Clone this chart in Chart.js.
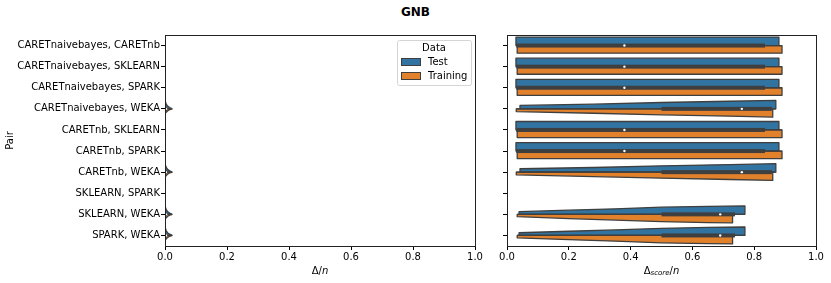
<!DOCTYPE html>
<html>
<head>
<meta charset="utf-8">
<script src="https://cdn.jsdelivr.net/npm/chart.js@4/dist/chart.umd.min.js"></script>
<style>
body { margin:0; background:#fff; width:831px; height:283px; position:relative; overflow:hidden; font-family:"DejaVu Sans", sans-serif; }
#title { position:absolute; top:5px; left:0; width:831px; text-align:center; font-weight:bold; font-size:12px; color:#000; }
canvas { position:absolute; top:0; }
</style>
</head>
<body>
<div id="title">GNB</div>
<canvas id="left" width="490" height="283" style="left:0"></canvas>
<canvas id="right" width="341" height="283" style="left:490px"></canvas>
<script>
const pairs = ['CARETnaivebayes, CARETnb', 'CARETnaivebayes, SKLEARN', 'CARETnaivebayes, SPARK',
  'CARETnaivebayes, WEKA', 'CARETnb, SKLEARN', 'CARETnb, SPARK', 'CARETnb, WEKA',
  'SKLEARN, SPARK', 'SKLEARN, WEKA', 'SPARK, WEKA'];
const xTicks = [0, 0.2, 0.4, 0.6, 0.8, 1.0];

// left panel: Δ/n  (x positions along the violin, and relative half widths)
const diffTestX = [null, null, null, [0, 0.004, 0.009, 0.015, 0.022], null, null,
  [0, 0.004, 0.009, 0.015, 0.022], null, [0, 0.004, 0.009, 0.015, 0.022], [0, 0.004, 0.009, 0.015, 0.022]];
const diffTestW = [null, null, null, [1.0, 0.55, 0.3, 0.15, 0.04], null, null,
  [1.0, 0.55, 0.3, 0.15, 0.04], null, [1.0, 0.55, 0.3, 0.15, 0.04], [1.0, 0.55, 0.3, 0.15, 0.04]];
const diffTrainX = diffTestX;
const diffTrainW = [null, null, null, [0.6, 0.4, 0.22, 0.1, 0.03], null, null,
  [0.6, 0.4, 0.22, 0.1, 0.03], null, [0.6, 0.4, 0.22, 0.1, 0.03], [0.6, 0.4, 0.22, 0.1, 0.03]];
const diffQ1 = [null, null, null, 0, null, null, 0, null, 0, 0];
const diffQ3 = [null, null, null, 0.006, null, null, 0.006, null, 0.006, 0.006];
const diffMedian = [null, null, null, 0.003, null, null, 0.003, null, 0.003, 0.003];

// right panel: Δscore/n
const flatTX = [0.029, 0.3, 0.6, 0.88], flatTW = [1.0, 1.0, 1.0, 1.0];
const flatRX = [0.033, 0.3, 0.6, 0.89], flatRW = [0.9, 0.9, 0.9, 0.9];
const wekaTX = [0.042, 0.28, 0.5, 0.72, 0.87], wekaTW = [0.4, 0.55, 0.75, 0.9, 1.0];
const wekaRX = [0.03, 0.28, 0.5, 0.72, 0.86], wekaRW = [0.32, 0.52, 0.71, 0.87, 0.98];
const skTX = [0.039, 0.2, 0.35, 0.5, 0.65, 0.77], skTW = [0.32, 0.5, 0.65, 0.85, 0.95, 1.0];
const skRX = [0.033, 0.2, 0.35, 0.5, 0.65, 0.73], skRW = [0.28, 0.5, 0.68, 0.87, 0.97, 1.0];
const scoreTestX = [flatTX, flatTX, flatTX, wekaTX, flatTX, flatTX, wekaTX, [0, 0], skTX, skTX];
const scoreTestW = [flatTW, flatTW, flatTW, wekaTW, flatTW, flatTW, wekaTW, [0.85, 0.85], skTW, skTW];
const scoreTrainX = [flatRX, flatRX, flatRX, wekaRX, flatRX, flatRX, wekaRX, [0, 0], skRX, skRX];
const scoreTrainW = [flatRW, flatRW, flatRW, wekaRW, flatRW, flatRW, wekaRW, [0.85, 0.85], skRW, skRW];
const scoreWhiskLo = [0.03, 0.03, 0.03, 0.03, 0.03, 0.03, 0.03, null, 0.033, 0.033];
const scoreWhiskHi = [0.89, 0.89, 0.89, 0.87, 0.89, 0.89, 0.87, null, 0.77, 0.77];
const scoreQ1 = [0.03, 0.03, 0.03, 0.5, 0.03, 0.03, 0.5, null, 0.5, 0.5];
const scoreQ3 = [0.835, 0.835, 0.835, 0.857, 0.835, 0.835, 0.857, null, 0.738, 0.738];
const scoreMedian = [0.38, 0.38, 0.38, 0.76, 0.38, 0.38, 0.76, null, 0.69, 0.69];

const blue = '#3274a1', orange = '#e1812c', edge = '#3f3f3f';
Chart.defaults.font.family = 'DejaVu Sans';
Chart.defaults.font.size = 10;
Chart.defaults.color = '#000';

function mathTitle(ctx, parts, cx, cy) {
  let w = 0;
  parts.forEach(p => { ctx.font = p.f; w += ctx.measureText(p.t).width; });
  let x = cx - w / 2;
  ctx.textBaseline = 'middle'; ctx.textAlign = 'left'; ctx.fillStyle = '#000';
  parts.forEach(p => { ctx.font = p.f; ctx.fillText(p.t, x, cy + (p.dy || 0)); x += ctx.measureText(p.t).width; });
}

function violins(halves, box, titleParts, withLegend) {
  return {
    id: 'violins',
    afterDatasetsDraw(chart) {
      const {ctx, chartArea: a, scales: {x, y}} = chart;
      const hw = (y.getPixelForValue(1) - y.getPixelForValue(0)) * 0.4;
      ctx.save();
      ctx.beginPath(); ctx.rect(a.left, a.top - 5, a.width, a.height + 10); ctx.clip();
      ctx.lineJoin = 'round';
      halves.forEach(h => {
        h.xs.forEach((xs, i) => {
          if (!xs) return;
          const yc = y.getPixelForValue(i), ws = h.ws[i];
          ctx.beginPath();
          ctx.moveTo(x.getPixelForValue(xs[0]), yc);
          xs.forEach((v, k) => ctx.lineTo(x.getPixelForValue(v), yc + h.dir * ws[k] * hw));
          ctx.lineTo(x.getPixelForValue(xs[xs.length - 1]), yc);
          ctx.closePath();
          ctx.fillStyle = h.color; ctx.fill();
          ctx.strokeStyle = edge; ctx.lineWidth = 1.3; ctx.stroke();
        });
      });
      box.med.forEach((m, i) => {
        if (m === null) return;
        const yc = y.getPixelForValue(i);
        if (box.lo) {
          ctx.strokeStyle = edge; ctx.lineWidth = 1.3;
          ctx.beginPath(); ctx.moveTo(x.getPixelForValue(box.lo[i]), yc); ctx.lineTo(x.getPixelForValue(box.hi[i]), yc); ctx.stroke();
        }
        const x1 = x.getPixelForValue(box.q1[i]), x2 = x.getPixelForValue(box.q3[i]);
        ctx.fillStyle = edge; ctx.fillRect(x1, yc - 2, x2 - x1, 4);
        ctx.fillStyle = '#fff'; ctx.beginPath(); ctx.arc(x.getPixelForValue(m), yc, 1.2, 0, Math.PI * 2); ctx.fill();
      });
      ctx.restore();
    },
    afterDraw(chart) {
      const {ctx, chartArea: a} = chart;
      ctx.save();
      ctx.strokeStyle = '#222'; ctx.lineWidth = 1;
      ctx.strokeRect(Math.round(a.left) + 0.5, Math.round(a.top) + 0.5, Math.round(a.width), Math.round(a.height));
      mathTitle(ctx, titleParts, (a.left + a.right) / 2, 271);
      if (withLegend) {
        const bx = a.right - 78, by = a.top + 5;
        ctx.fillStyle = 'rgba(255,255,255,0.8)'; ctx.strokeStyle = '#d5d5d5'; ctx.lineWidth = 1;
        ctx.beginPath(); ctx.roundRect(bx + 0.5, by + 0.5, 74, 45, 2); ctx.fill(); ctx.stroke();
        ctx.fillStyle = '#000'; ctx.font = '10px DejaVu Sans'; ctx.textBaseline = 'middle';
        ctx.textAlign = 'center'; ctx.fillText('Data', bx + 37, by + 8);
        ctx.textAlign = 'left';
        [['Test', blue], ['Training', orange]].forEach(([t, c], k) => {
          const yy = by + 22 + k * 14;
          ctx.fillStyle = c; ctx.fillRect(bx + 4.5, yy - 3.5, 19, 7);
          ctx.strokeStyle = edge; ctx.strokeRect(bx + 4.5, yy - 3.5, 19, 7);
          ctx.fillStyle = '#000'; ctx.fillText(t, bx + 31, yy);
        });
      }
      ctx.restore();
    }
  };
}

function makeChart(id, yWidth, rightPad, showLabels, plugin) {
  return new Chart(document.getElementById(id), {
    type: 'bar',
    data: { labels: pairs, datasets: [{ data: pairs.map(() => null) }] },
    options: {
      indexAxis: 'y', responsive: false, animation: false,
      layout: { padding: { top: 35, right: rightPad, left: 0, bottom: 0 } },
      plugins: { legend: { display: false }, tooltip: { enabled: false } },
      scales: {
        y: {
          type: 'category', offset: true,
          grid: { offset: false, drawOnChartArea: false, tickLength: 4, tickColor: '#000', tickWidth: 1 },
          border: { display: false },
          ticks: { display: showLabels, padding: 1, color: '#000', autoSkip: false },
          title: { display: showLabels, text: 'Pair', color: '#000', font: { size: 10 } },
          afterFit: s => { s.width = yWidth; }
        },
        x: {
          type: 'linear', min: 0, max: 1,
          afterBuildTicks: s => { s.ticks = xTicks.map(v => ({ value: v })); },
          grid: { drawOnChartArea: false, tickLength: 4, tickColor: '#000', tickWidth: 1 },
          border: { display: false },
          ticks: { maxRotation: 0, padding: 1, color: '#000', callback: v => v.toFixed(1) },
          afterFit: s => { s.height = 37; }
        }
      }
    },
    plugins: [plugin]
  });
}

makeChart('left', 165, 15, true, violins(
  [{ xs: diffTestX, ws: diffTestW, dir: -1, color: blue }, { xs: diffTrainX, ws: diffTrainW, dir: 1, color: orange }],
  { q1: diffQ1, q3: diffQ3, med: diffMedian },
  [{ t: 'Δ', f: '10px DejaVu Sans' }, { t: '/', f: '10px DejaVu Sans' }, { t: 'n', f: 'italic 10px DejaVu Sans' }],
  true));

makeChart('right', 17, 15, false, violins(
  [{ xs: scoreTestX, ws: scoreTestW, dir: -1, color: blue }, { xs: scoreTrainX, ws: scoreTrainW, dir: 1, color: orange }],
  { q1: scoreQ1, q3: scoreQ3, med: scoreMedian, lo: scoreWhiskLo, hi: scoreWhiskHi },
  [{ t: 'Δ', f: '10px DejaVu Sans' }, { t: 'score', f: 'italic 7px DejaVu Sans', dy: 2 }, { t: '/', f: '10px DejaVu Sans' }, { t: 'n', f: 'italic 10px DejaVu Sans' }],
  false));
</script>
</body>
</html>
